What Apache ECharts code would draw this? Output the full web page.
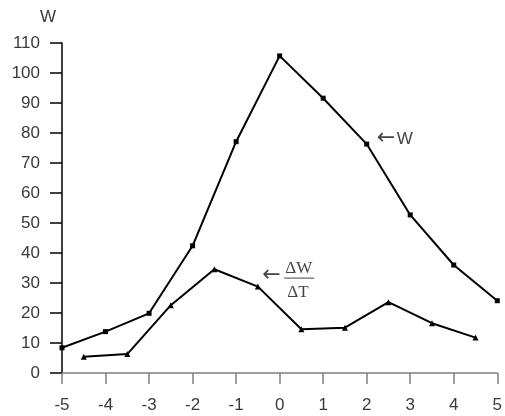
<!DOCTYPE html>
<html>
<head>
<meta charset="utf-8">
<script src="https://cdn.jsdelivr.net/npm/echarts@6/dist/echarts.min.js"></script>
<style>
    html, body {margin:0;padding:0;background:#ffffff;}
    #main {width:505px;height:416px;}
</style>
</head>
<body>
<div id="main"></div>
<script>
    // W at whole degrees
    var wX = [-5, -4, -3, -2, -1, 0, 1, 2, 3, 4, 5];
    var wY = [8.4, 13.8, 19.9, 42.4, 77.1, 105.7, 91.6, 76.3, 52.7, 36, 24.1];
    // dW/dT at the half degrees
    var dX = [-4.5, -3.5, -2.5, -1.5, -0.5, 0.5, 1.5, 2.5, 3.5, 4.5];
    var dY = [5.4, 6.3, 22.6, 34.6, 28.8, 14.6, 15.1, 23.6, 16.6, 11.8];
    var xTicks = [-5, -4, -3, -2, -1, 0, 1, 2, 3, 4, 5];
    var yTicks = [0, 10, 20, 30, 40, 50, 60, 70, 80, 90, 100, 110];

    function pairs(xs, ys) {
        var out = [];
        for (var i = 0; i < xs.length; i++) {
            out.push([xs[i], ys[i]]);
        }
        return out;
    }

    var myChart = echarts.init(document.getElementById('main'));
    var txt = '#3a3a3a';
    var option = {
        animation: false,
        backgroundColor: '#ffffff',
        grid: {left: 62, right: 3, top: 43, bottom: 43},
        xAxis: {
            type: 'value',
            min: xTicks[0],
            max: xTicks[xTicks.length - 1],
            interval: 1,
            splitLine: {show: false},
            axisLine: {onZero: false, lineStyle: {color: '#808080', width: 1.5}},
            axisTick: {length: 11, lineStyle: {color: '#808080', width: 1.5}},
            axisLabel: {
                color: txt, fontFamily: 'Liberation Sans', fontSize: 17, margin: 24
            }
        },
        yAxis: {
            type: 'value',
            min: yTicks[0],
            max: yTicks[yTicks.length - 1],
            interval: 10,
            name: 'W',
            nameGap: 17,
            nameTextStyle: {
                color: txt, fontFamily: 'Liberation Sans', fontSize: 17,
                align: 'right', padding: [0, 6, 0, 0]
            },
            splitLine: {show: false},
            axisLine: {show: true, onZero: false, lineStyle: {color: '#000000', width: 1.5}},
            axisTick: {show: true, length: 12, lineStyle: {color: '#000000', width: 1.5}},
            axisLabel: {
                color: txt, fontFamily: 'Liberation Sans', fontSize: 17, margin: 22
            }
        },
        series: [
            {
                name: 'W',
                type: 'line',
                data: pairs(wX, wY),
                symbol: 'rect',
                symbolSize: 5,
                itemStyle: {color: '#000000'},
                lineStyle: {color: '#000000', width: 2}
            },
            {
                name: 'dW/dT',
                type: 'line',
                data: pairs(dX, dY),
                symbol: 'triangle',
                symbolSize: 6,
                itemStyle: {color: '#000000'},
                lineStyle: {color: '#000000', width: 2}
            }
        ]
    };
    myChart.setOption(option);

    // annotations placed next to the curves
    var pW = myChart.convertToPixel({gridIndex: 0}, [2.23, 77.3]);
    var pD = myChart.convertToPixel({gridIndex: 0}, [-0.4, 31.3]);
    myChart.setOption({
        graphic: [
            {
                type: 'text', left: pW[0], top: pW[1] - 14,
                style: {text: '\u2190', fill: '#444444', font: '22px "DejaVu Sans"'}
            },
            {
                type: 'text', left: pW[0] + 20, top: pW[1] - 10,
                style: {text: 'W', fill: '#444444', font: '17px "Liberation Sans"'}
            },
            {
                type: 'text', left: pD[0], top: pD[1] - 15,
                style: {text: '\u2190', fill: '#444444', font: '22px "DejaVu Sans"'}
            },
            {
                type: 'text', left: pD[0] + 23, top: pD[1] - 19,
                style: {text: '\u0394W', fill: '#444444', font: '17px "Liberation Serif"'}
            },
            {
                type: 'line',
                shape: {x1: pD[0] + 22, y1: pD[1] - 1, x2: pD[0] + 52, y2: pD[1] - 1},
                style: {stroke: '#444444', lineWidth: 1}
            },
            {
                type: 'text', left: pD[0] + 25, top: pD[1] + 5,
                style: {text: '\u0394T', fill: '#444444', font: '17px "Liberation Serif"'}
            }
        ]
    });
</script>
</body>
</html>
